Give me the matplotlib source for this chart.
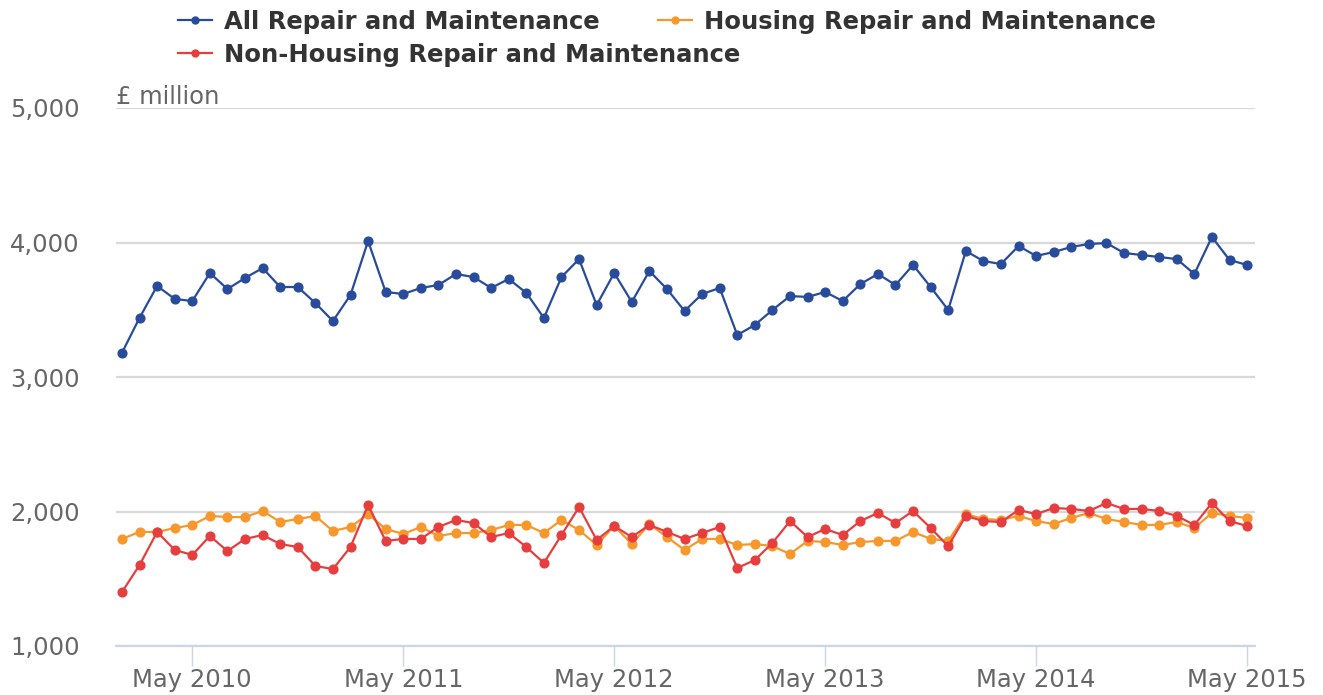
import matplotlib
matplotlib.use("Agg")
import matplotlib.pyplot as plt
import numpy as np
import pandas as pd
from matplotlib.lines import Line2D

months = pd.date_range("2010-01-01", "2015-05-01", freq="MS")

all_rm = [3180, 3440, 3677, 3580, 3565, 3773, 3654, 3736, 3810, 3669,
          3669, 3550, 3416, 3610, 4011, 3632, 3617, 3662, 3684, 3766,
          3743, 3662, 3729, 3625, 3439, 3743, 3877, 3535, 3773, 3558,
          3788, 3654, 3491, 3617, 3662, 3312, 3387, 3498, 3602, 3595,
          3632, 3565, 3691, 3766, 3684, 3833, 3669, 3498, 3937, 3862,
          3840, 3974, 3900, 3929, 3967, 3989, 3996, 3922, 3907, 3892,
          3877, 3766, 4041, 3870, 3833]

housing_rm = [1796, 1848, 1848, 1877, 1900, 1967, 1959, 1959, 2004, 1922,
              1944, 1967, 1855, 1885, 1981, 1870, 1833, 1885, 1818, 1840,
              1840, 1862, 1900, 1900, 1840, 1937, 1862, 1751, 1892, 1758,
              1907, 1810, 1714, 1796, 1796, 1751, 1758, 1743, 1684, 1781,
              1773, 1751, 1773, 1781, 1781, 1848, 1796, 1781, 1981, 1944,
              1937, 1967, 1929, 1907, 1952, 1989, 1944, 1922, 1900, 1900,
              1922, 1877, 1989, 1967, 1952]

nonhousing_rm = [1401, 1602, 1848, 1714, 1677, 1818, 1706, 1796, 1825, 1758,
                 1736, 1595, 1572, 1736, 2048, 1781, 1796, 1796, 1885, 1937,
                 1914, 1810, 1840, 1736, 1617, 1825, 2033, 1788, 1892, 1810,
                 1900, 1848, 1796, 1840, 1885, 1580, 1639, 1766, 1929, 1810,
                 1870, 1825, 1929, 1989, 1914, 2004, 1877, 1743, 1967, 1929,
                 1922, 2011, 1981, 2026, 2019, 2004, 2063, 2019, 2019, 2004,
                 1967, 1900, 2063, 1929, 1892]

series_names = ["All Repair and Maintenance", "Housing Repair and Maintenance",
                "Non-Housing Repair and Maintenance"]
colors = ["#284b9b", "#f6982c", "#e63e3f"]
y_ticks = [1000, 2000, 3000, 4000, 5000]
x_tick_dates = pd.date_range("2010-05-01", "2015-05-01", freq="12MS")
x_tick_labels = [d.strftime("May %Y") for d in x_tick_dates]

FONT = ["DejaVu Sans"]
plt.rcParams["font.family"] = FONT
FS = 17.5

fig = plt.figure(figsize=(13.23, 6.95), dpi=100)
ax = fig.add_axes([116/1323, 1-646/695, (1255-116)/1323, (646-108)/695])

x = np.arange(len(months))
lines = []
for vals, c in zip([all_rm, housing_rm, nonhousing_rm], colors):
    ln, = ax.plot(x, vals, color=c, lw=1.6, marker="o", ms=6.3, zorder=3)
    lines.append(ln)
lines[2].set_zorder(4)

ax.set_ylim(1000, 5000)
ax.set_xlim(-0.34, 64.45)
ax.set_yticks(y_ticks)
ax.set_yticklabels([f"{v:,}" for v in y_ticks])
xt = [list(months).index(d) for d in x_tick_dates]
ax.set_xticks(xt)
ax.set_xticklabels(x_tick_labels)

ax.grid(axis="y", color="#d9d9d9", lw=1.6)
ax.set_axisbelow(True)
for s in ["top", "right", "left"]:
    ax.spines[s].set_visible(False)
ax.spines["bottom"].set_color("#ccd6eb")
ax.spines["bottom"].set_linewidth(1.6)
ax.spines["bottom"].set_zorder(2)
ax.tick_params(axis="x", length=14.5, width=1, color="#ccd6eb",
               labelcolor="#666666", labelsize=FS, pad=1)
ax.tick_params(axis="y", length=0, labelcolor="#666666", labelsize=FS, pad=26)

fig.text(116/1323, 1-97/695, "£ million", color="#666666", fontsize=FS,
         va="center", ha="left")

# legend, laid out like the reference (flowing rows)
leg_pos = [(178, 22), (658, 22), (178, 55)]
for ln, name, (px, py) in zip(lines, series_names, leg_pos):
    h = Line2D([], [], color=ln.get_color(), lw=1.6, marker="o", ms=5)
    lg = fig.legend([h], [name], loc="center left",
                    bbox_to_anchor=(px/1323, 1-py/695), frameon=False,
                    borderpad=0, borderaxespad=0, handlelength=1.4,
                    handletextpad=0.5,
                    prop=dict(weight="bold", size=FS, family=FONT))
    for t in lg.get_texts():
        t.set_color("#333333")

fig.savefig("out.png", dpi=100)
